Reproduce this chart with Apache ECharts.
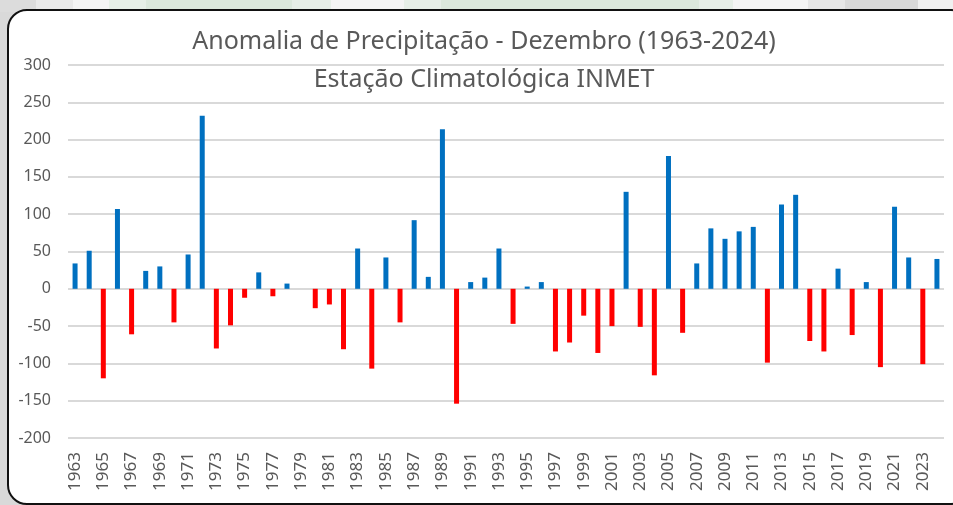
<!DOCTYPE html>
<html>
<head>
<meta charset="utf-8">
<title>Anomalia de Precipitação - Dezembro</title>
<script src="https://cdn.jsdelivr.net/npm/echarts@6/dist/echarts.min.js"></script>
<style>
  html, body {
    margin: 0;
    width: 953px;
    height: 505px;
    overflow: hidden;
    background: #d9d9d9;
  }
  .top-strip {
    position: absolute;
    left: 0;
    top: 0;
    width: 953px;
    height: 12px;
    background: linear-gradient(to right,
      #dcdcdc 0 36px, #e9e9e9 36px 73px, #f4f4f4 73px 109px, #e6efe7 109px 146px,
      #dbe8dc 146px 292px, #e6eee7 292px 331px, #f4f4f4 331px 404px, #e6eee7 404px 441px,
      #dbe8dc 441px 699px, #e6eee7 699px 733px, #f4f4f4 733px 808px, #e6e6e6 808px 845px,
      #d9d9d9 845px 918px, #f0f0f0 918px 953px);
  }
  .frame {
    position: absolute;
    left: 7px;
    top: 9px;
    width: 960px;
    height: 492px;
    border: 2px solid #111;
    border-radius: 20px;
    background: #fff;
  }
  #chart {
    position: absolute;
    left: 0;
    top: 0;
    width: 953px;
    height: 505px;
  }
</style>
</head>
<body>
<div class="top-strip"></div>
<div class="frame"></div>
<div id="chart"></div>
<script>
const years = []
for (let y = 1963; y <= 2024; y++) years.push(String(y))

// anomalia de precipitação (mm)
const anomalies = [
  34, 51, -120, 107, -61, 24, 30, -45, 46, 232,
  -80, -49, -12, 22, -10, 7, 0, -26, -21, -81,
  54, -107, 42, -45, 92, 16, 214, -154, 9, 15,
  54, -47, 3, 9, -84, -72, -36, -86, -50, 130,
  -51, -116, 178, -59, 34, 81, 67, 77, 83, -99,
  113, 126, -70, -84, 27, -62, 9, -105, 110, 42,
  -101, 40
]

const yTicks = { min: -200, max: 300, interval: 50 }

const colors = {
  positive: '#0070c0',
  negative: '#ff0000',
  text: '#595959',
  grid: '#d9d9d9'
}

const font = "'Noto Sans', 'Open Sans', sans-serif"

const chart = echarts.init(document.getElementById('chart'), null, { renderer: 'canvas' })

chart.setOption({
  backgroundColor: 'transparent',
  animation: false,
  graphic: [
    {
      type: 'text',
      x: 484,
      y: 42,
      style: {
        text: 'Anomalia de Precipitação - Dezembro (1963-2024)',
        fill: colors.text,
        font: `25px ${font}`,
        textAlign: 'center',
        textVerticalAlign: 'middle'
      }
    },
    {
      type: 'text',
      x: 484,
      y: 80,
      style: {
        text: 'Estação Climatológica INMET',
        fill: colors.text,
        font: `25px ${font}`,
        textAlign: 'center',
        textVerticalAlign: 'middle'
      }
    }
  ],
  grid: {
    left: 68,
    right: 9,
    top: 65,
    bottom: 67
  },
  xAxis: {
    type: 'category',
    data: years,
    axisLine: { show: false, onZero: false },
    axisTick: { show: false },
    axisLabel: {
      interval: 1,
      rotate: 90,
      margin: 14,
      color: colors.text,
      fontFamily: font,
      fontSize: 17
    },
    splitLine: { show: false }
  },
  yAxis: {
    type: 'value',
    min: yTicks.min,
    max: yTicks.max,
    interval: yTicks.interval,
    axisLine: { show: false },
    axisTick: { show: false },
    axisLabel: {
      margin: 17,
      color: colors.text,
      fontFamily: font,
      fontSize: 16
    },
    splitLine: {
      lineStyle: { color: colors.grid, width: 2 }
    }
  },
  series: [
    {
      type: 'bar',
      data: anomalies,
      barWidth: 5,
      itemStyle: {
        color: p => (p.value >= 0 ? colors.positive : colors.negative)
      }
    }
  ]
})
</script>
</body>
</html>
